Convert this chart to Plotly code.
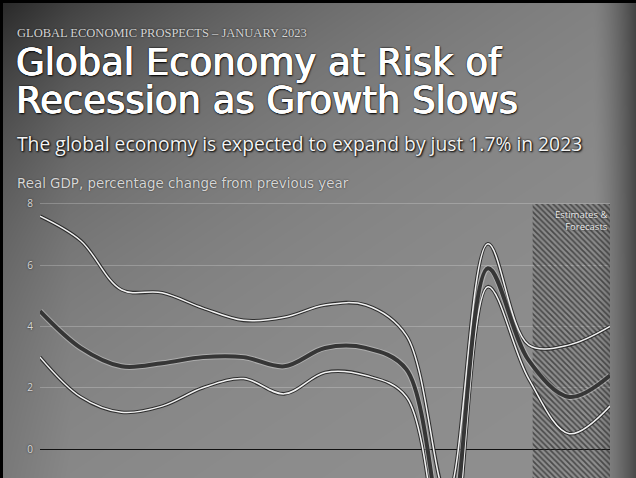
import base64, struct, zlib
import numpy as np
import plotly.graph_objects as go

# ---------------- data ----------------
years = list(range(2010, 2025))
world = [4.5, 3.3, 2.7, 2.8, 3.0, 3.0, 2.7, 3.3, 3.3, 2.6, -3.2, 5.9, 2.9, 1.7, 2.4]
emde = [7.6, 6.8, 5.2, 5.1, 4.6, 4.2, 4.3, 4.7, 4.7, 3.7, -1.5, 6.7, 3.4, 3.4, 4.0]
advanced = [3.0, 1.7, 1.2, 1.4, 2.0, 2.3, 1.8, 2.5, 2.4, 1.7, -4.3, 5.3, 2.3, 0.5, 1.4]
y_ticks = [0, 2, 4, 6, 8]
forecast_start = 2022.1
forecast_end = 2024

# ---------------- geometry ----------------
W, H = 636, 478
ML, MR, MT, MB = 40, 26, 200, 0
PW, PH = W - ML - MR, H - MT - MB


def px(x):
    return (x - ML) / PW


def py(y):
    return 1 - (y - MT) / PH


# ---------------- background image (gradient) ----------------
X, Y = np.meshgrid(np.arange(W, dtype=float), np.arange(H, dtype=float))
s = 0.188 * X + 0.279 * Y
b = 145 - 101 * np.exp(-s / 60.0)
b *= 1 - 0.5 * np.clip((X - 592) / 44.0, 0, 1) ** 1.5
b *= 1 - 0.10 * np.clip((70 - X) / 70.0, 0, 1)
b[:3, :] = 0
b[:, :3] = 0
img = np.clip(b, 0, 255).astype(np.uint8)


def png_gray(arr):
    h, w = arr.shape
    raw = b"".join(b"\x00" + arr[i].tobytes() for i in range(h))

    def chunk(tag, data):
        c = struct.pack(">I", len(data)) + tag + data
        return c + struct.pack(">I", zlib.crc32(tag + data) & 0xFFFFFFFF)

    return (b"\x89PNG\r\n\x1a\n"
            + chunk(b"IHDR", struct.pack(">IIBBBBB", w, h, 8, 0, 0, 0, 0))
            + chunk(b"IDAT", zlib.compress(raw, 9))
            + chunk(b"IEND", b""))


bg_uri = "data:image/png;base64," + base64.b64encode(png_gray(img)).decode()

# ---------------- figure ----------------
fig = go.Figure()

# hatched forecast region
fig.add_trace(go.Scatter(
    x=[forecast_start, forecast_end, forecast_end, forecast_start, forecast_start],
    y=[8, 8, -20, -20, 8],
    mode="lines", fill="toself", line=dict(width=0),
    fillcolor="rgba(0,0,0,0)",
    fillpattern=dict(shape="\\", fgcolor="#262626", fgopacity=0.65,
                     bgcolor="rgba(0,0,0,0)", size=4, solidity=0.45),
    hoverinfo="skip", showlegend=False))

spline = dict(shape="spline", smoothing=1.0)

for series in (emde, advanced):
    fig.add_trace(go.Scatter(x=years, y=series, mode="lines",
                             line=dict(color="rgba(30,30,30,0.85)", width=3.6, **spline),
                             hoverinfo="skip", showlegend=False))
    fig.add_trace(go.Scatter(x=years, y=series, mode="lines",
                             line=dict(color="#f2f2f2", width=1.5, **spline),
                             hoverinfo="skip", showlegend=False))

fig.add_trace(go.Scatter(x=years, y=world, mode="lines",
                         line=dict(color="rgba(220,220,220,0.45)", width=6, **spline),
                         hoverinfo="skip", showlegend=False))
fig.add_trace(go.Scatter(x=years, y=world, mode="lines",
                         line=dict(color="#363636", width=4, **spline),
                         hoverinfo="skip", showlegend=False))

title_shadow = ("0.7px 0px 0px #fff, -0.4px 0px 0px #fff, 0px 0.4px 0px #fff, "
                "0px 0px 2px #000, 0px 0px 1px #000, 1px 1px 2px #000")
ann = [
    dict(text="GLOBAL ECONOMIC PROSPECTS – JANUARY 2023", x=px(16), y=py(33),
         font=dict(family="Liberation Serif", size=12.5, color="#d4d4d4", shadow="0px 0px 2px #111")),
    dict(text="Global Economy at Risk of", x=px(15), y=py(62),
         font=dict(family="DejaVu Sans", size=37, color="#ffffff", weight="normal", shadow=title_shadow)),
    dict(text="Recession as Growth Slows", x=px(15), y=py(100),
         font=dict(family="DejaVu Sans", size=37, color="#ffffff", weight="normal", shadow=title_shadow)),
    dict(text="The global economy is expected to expand by just 1.7% in 2023", x=px(16), y=py(143),
         font=dict(family="Open Sans", size=19.3, color="#f4f4f4", weight=400,
                   shadow="0px 0px 2px #000, 1px 1px 2px #000")),
    dict(text="Real GDP, percentage change from previous year", x=px(16), y=py(184),
         font=dict(family="DejaVu Sans", size=13.4, color="#d6d6d6", weight="normal",
                   shadow="0px 0px 1.5px #222")),
]
annotations = []
for a in ann:
    annotations.append(dict(xref="paper", yref="paper", xanchor="left", yanchor="middle",
                            showarrow=False, borderpad=0, **a))
annotations.append(dict(xref="x", yref="paper", x=forecast_end, y=py(206),
                        xanchor="right", yanchor="top", align="right", showarrow=False,
                        text="Estimates &<br>Forecasts",
                        font=dict(family="Open Sans", size=9.5, color="#eeeeee",
                                  shadow="0px 0px 2px #111")))

fig.update_layout(
    width=W, height=H,
    margin=dict(l=ML, r=MR, t=MT, b=MB, pad=0),
    paper_bgcolor="#6e6e6e",
    plot_bgcolor="rgba(0,0,0,0)",
    showlegend=False,
    annotations=annotations,
    images=[dict(source=bg_uri, xref="paper", yref="paper",
                 x=-ML / PW, y=1 + MT / PH, sizex=W / PW, sizey=H / PH,
                 xanchor="left", yanchor="top", sizing="stretch", layer="below")],
    xaxis=dict(range=[2010, 2024], showgrid=False, zeroline=False,
               showticklabels=False, ticks="", showline=False, fixedrange=True),
    yaxis=dict(range=[-0.947, 8.13], tickvals=y_ticks, ticktext=[str(v) for v in y_ticks],
               showgrid=True, gridcolor="rgba(255,255,255,0.22)", gridwidth=1,
               zeroline=True, zerolinecolor="#111111", zerolinewidth=1.2,
               ticks="", showline=False, ticklabelstandoff=6,
               tickfont=dict(family="Open Sans", size=10, color="#d8d8d8",
                             shadow="0px 0px 2px #222"),
               fixedrange=True),
)

fig.write_html("out.html", config={"displayModeBar": False},
               post_script="document.body.style.margin='0';")
